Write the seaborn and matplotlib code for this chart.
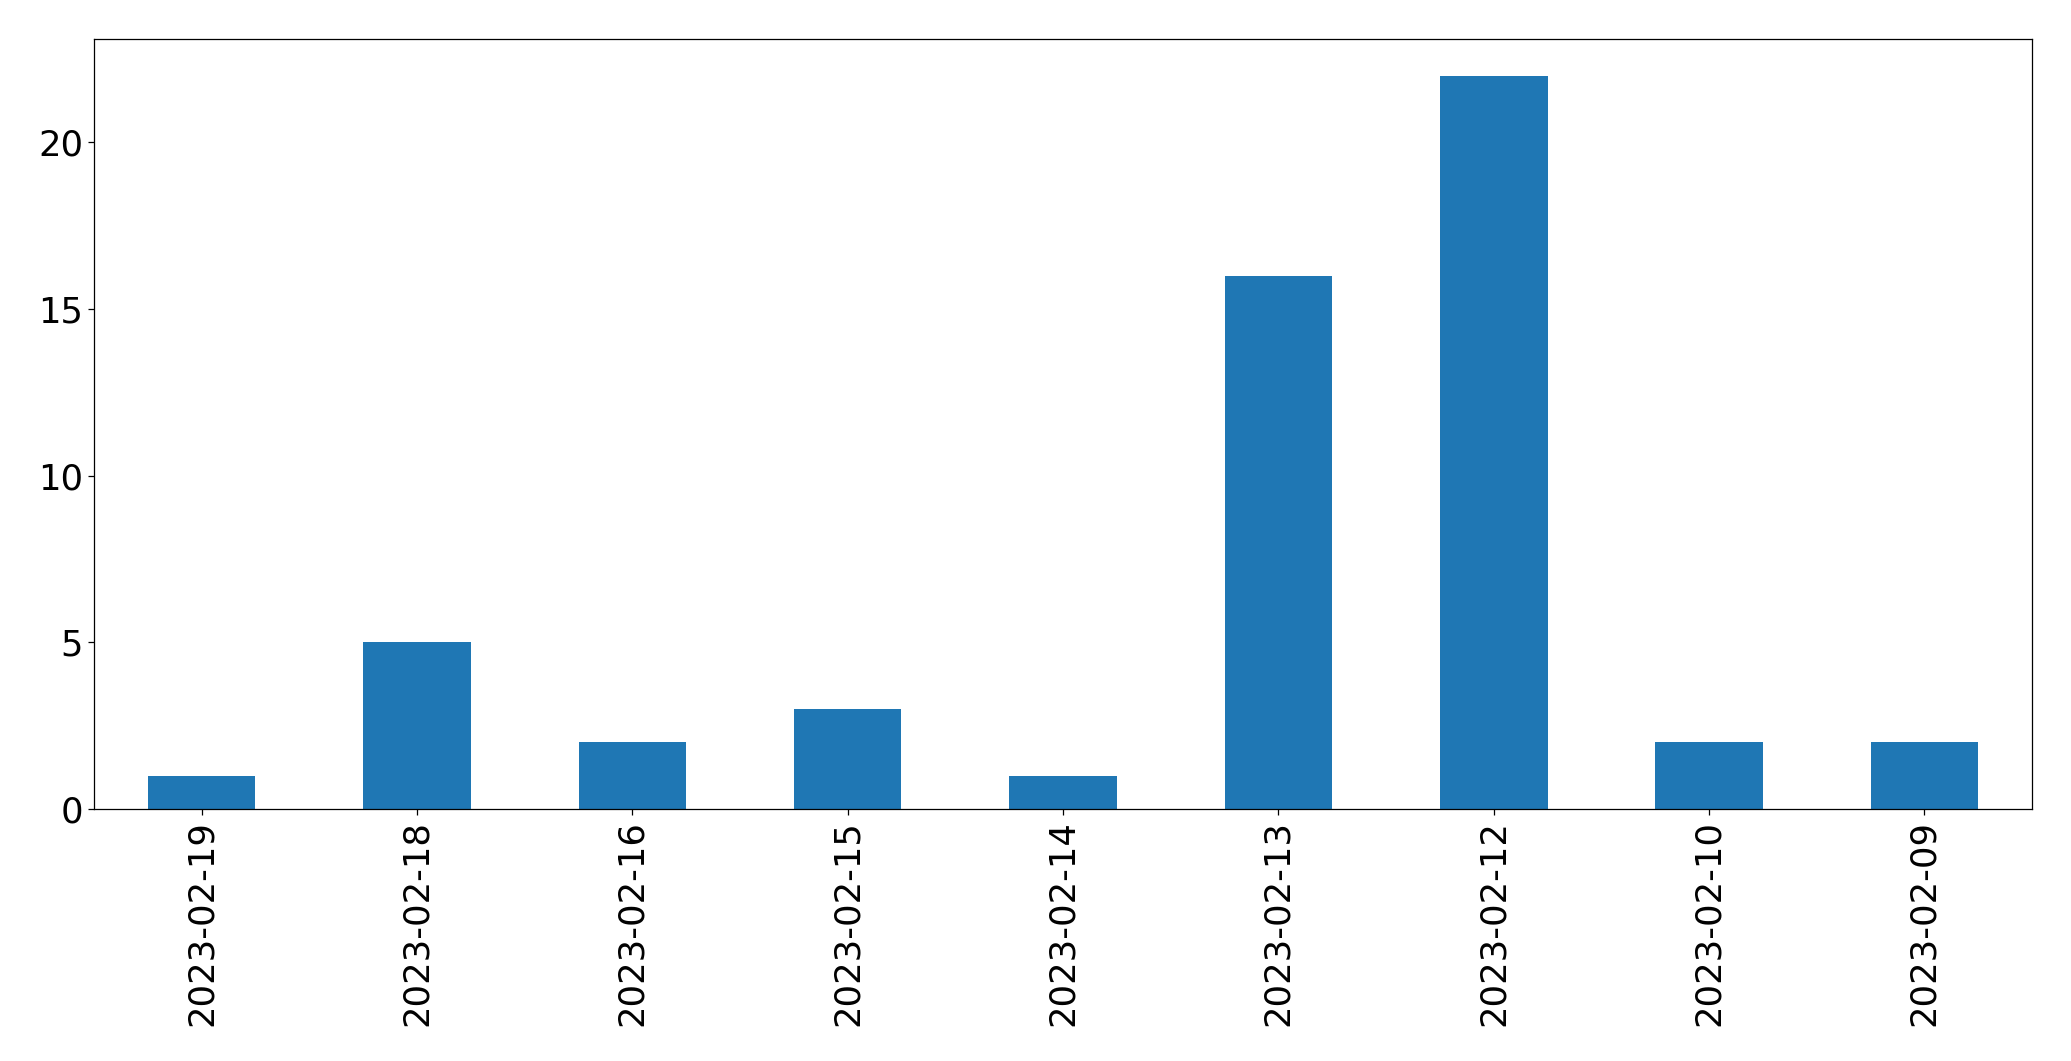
import pandas as pd
import matplotlib
matplotlib.use("Agg")
import matplotlib.pyplot as plt
import seaborn as sns

# values
dates = ['2023-02-19', '2023-02-18', '2023-02-16', '2023-02-15', '2023-02-14',
         '2023-02-13', '2023-02-12', '2023-02-10', '2023-02-09']
counts = [1, 5, 2, 3, 1, 16, 22, 2, 2]

df = pd.DataFrame({'date': dates, 'count': counts})

fig = plt.figure(figsize=(20.71, 10.61), dpi=100)
ax = fig.add_axes([94 / 2071, 1 - 809 / 1061, (2032 - 94) / 2071, (809 - 39) / 1061])

sns.barplot(x='date', y='count', data=df, color='#1f77b4', saturation=1,
            width=0.5, ax=ax, errorbar=None)

ax.set_xlim(-0.5, len(dates) - 0.5)
ax.set_ylim(0, max(counts) * 1.05)
ax.set_yticks([0, 5, 10, 15, 20])
ax.set_xlabel('')
ax.set_ylabel('')
ax.tick_params(axis='both', labelsize=25.5, length=4.3, width=0.9)
plt.setp(ax.get_xticklabels(), rotation=90)
for s in ax.spines.values():
    s.set_linewidth(0.9)

plt.savefig('out.png', dpi=100)
